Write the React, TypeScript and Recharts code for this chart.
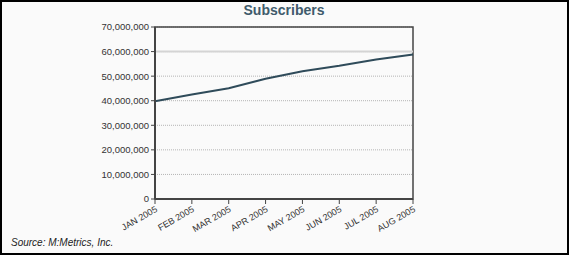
import {
  LineChart,
  Line,
  XAxis,
  YAxis,
  CartesianGrid,
  ReferenceArea,
  ReferenceLine,
} from "recharts";

const months = [
  "JAN 2005",
  "FEB 2005",
  "MAR 2005",
  "APR 2005",
  "MAY 2005",
  "JUN 2005",
  "JUL 2005",
  "AUG 2005",
];

const subscribers = [
  39800000, 42500000, 45100000, 48900000, 52000000, 54200000, 56800000,
  58800000,
];

const yTicks = [0, 10000000, 20000000, 30000000, 40000000, 50000000, 60000000, 70000000];

const data = months.map((month, i) => ({ month, subscribers: subscribers[i] }));

const FONT = "'Liberation Sans', Arial, sans-serif";

const MonthTick = (props: any) => {
  const { x, y, payload } = props;
  const ax = x + 3;
  const ay = y + 5;
  return (
    <text
      x={ax}
      y={ay}
      transform={`rotate(-30, ${ax}, ${ay})`}
      textAnchor="end"
      fontSize={9}
      fontFamily={FONT}
      fill="#333"
    >
      {payload.value}
    </text>
  );
};

const formatNumber = (v: number) => v.toLocaleString("en-US");

export default function App() {
  return (
    <div
      style={{
        position: "absolute",
        left: 0,
        top: 0,
        width: 569,
        height: 255,
        background: "#fafafa",
        fontFamily: FONT,
      }}
    >
      <div
        style={{
          position: "absolute",
          left: 155,
          width: 258,
          top: 2,
          textAlign: "center",
          fontSize: 14,
          fontWeight: "bold",
          color: "#3f5b6c",
        }}
      >
        Subscribers
      </div>
      <LineChart
        width={569}
        height={255}
        data={data}
        margin={{ top: 27, right: 156, bottom: 6, left: 0 }}
      >
        <CartesianGrid
          vertical={false}
          stroke="#b4b4b4"
          strokeDasharray="1 1"
        />
        <ReferenceLine y={60000000} stroke="#d4d4d4" strokeWidth={2} />
        <XAxis
          dataKey="month"
          height={50}
          tick={<MonthTick />}
          tickSize={5}
          interval={0}
          stroke="#444"
          axisLine={{ stroke: "#444", strokeWidth: 2 }}
        />
        <YAxis
          width={155}
          domain={[0, 70000000]}
          ticks={yTicks}
          tickFormatter={formatNumber}
          tickSize={4}
          tickMargin={2}
          interval={0}
          stroke="#444"
          axisLine={{ stroke: "#444", strokeWidth: 2 }}
          tick={{ fontSize: 9.5, fill: "#333", fontFamily: FONT }}
        />
        <ReferenceArea
          x1="JAN 2005"
          x2="AUG 2005"
          y1={0}
          y2={70000000}
          fill="none"
          stroke="#444"
          strokeWidth={1.5}
          ifOverflow="visible"
        />
        <Line
          type="linear"
          dataKey="subscribers"
          stroke="#2f4b5a"
          strokeWidth={2}
          dot={false}
          isAnimationActive={false}
        />
      </LineChart>
      <div
        style={{
          position: "absolute",
          left: 11,
          top: 237,
          fontSize: 10,
          fontStyle: "italic",
          color: "#222",
        }}
      >
        Source: M:Metrics, Inc.
      </div>
      <div
        style={{
          position: "absolute",
          inset: 0,
          border: "2px solid #000",
          pointerEvents: "none",
        }}
      />
    </div>
  );
}
